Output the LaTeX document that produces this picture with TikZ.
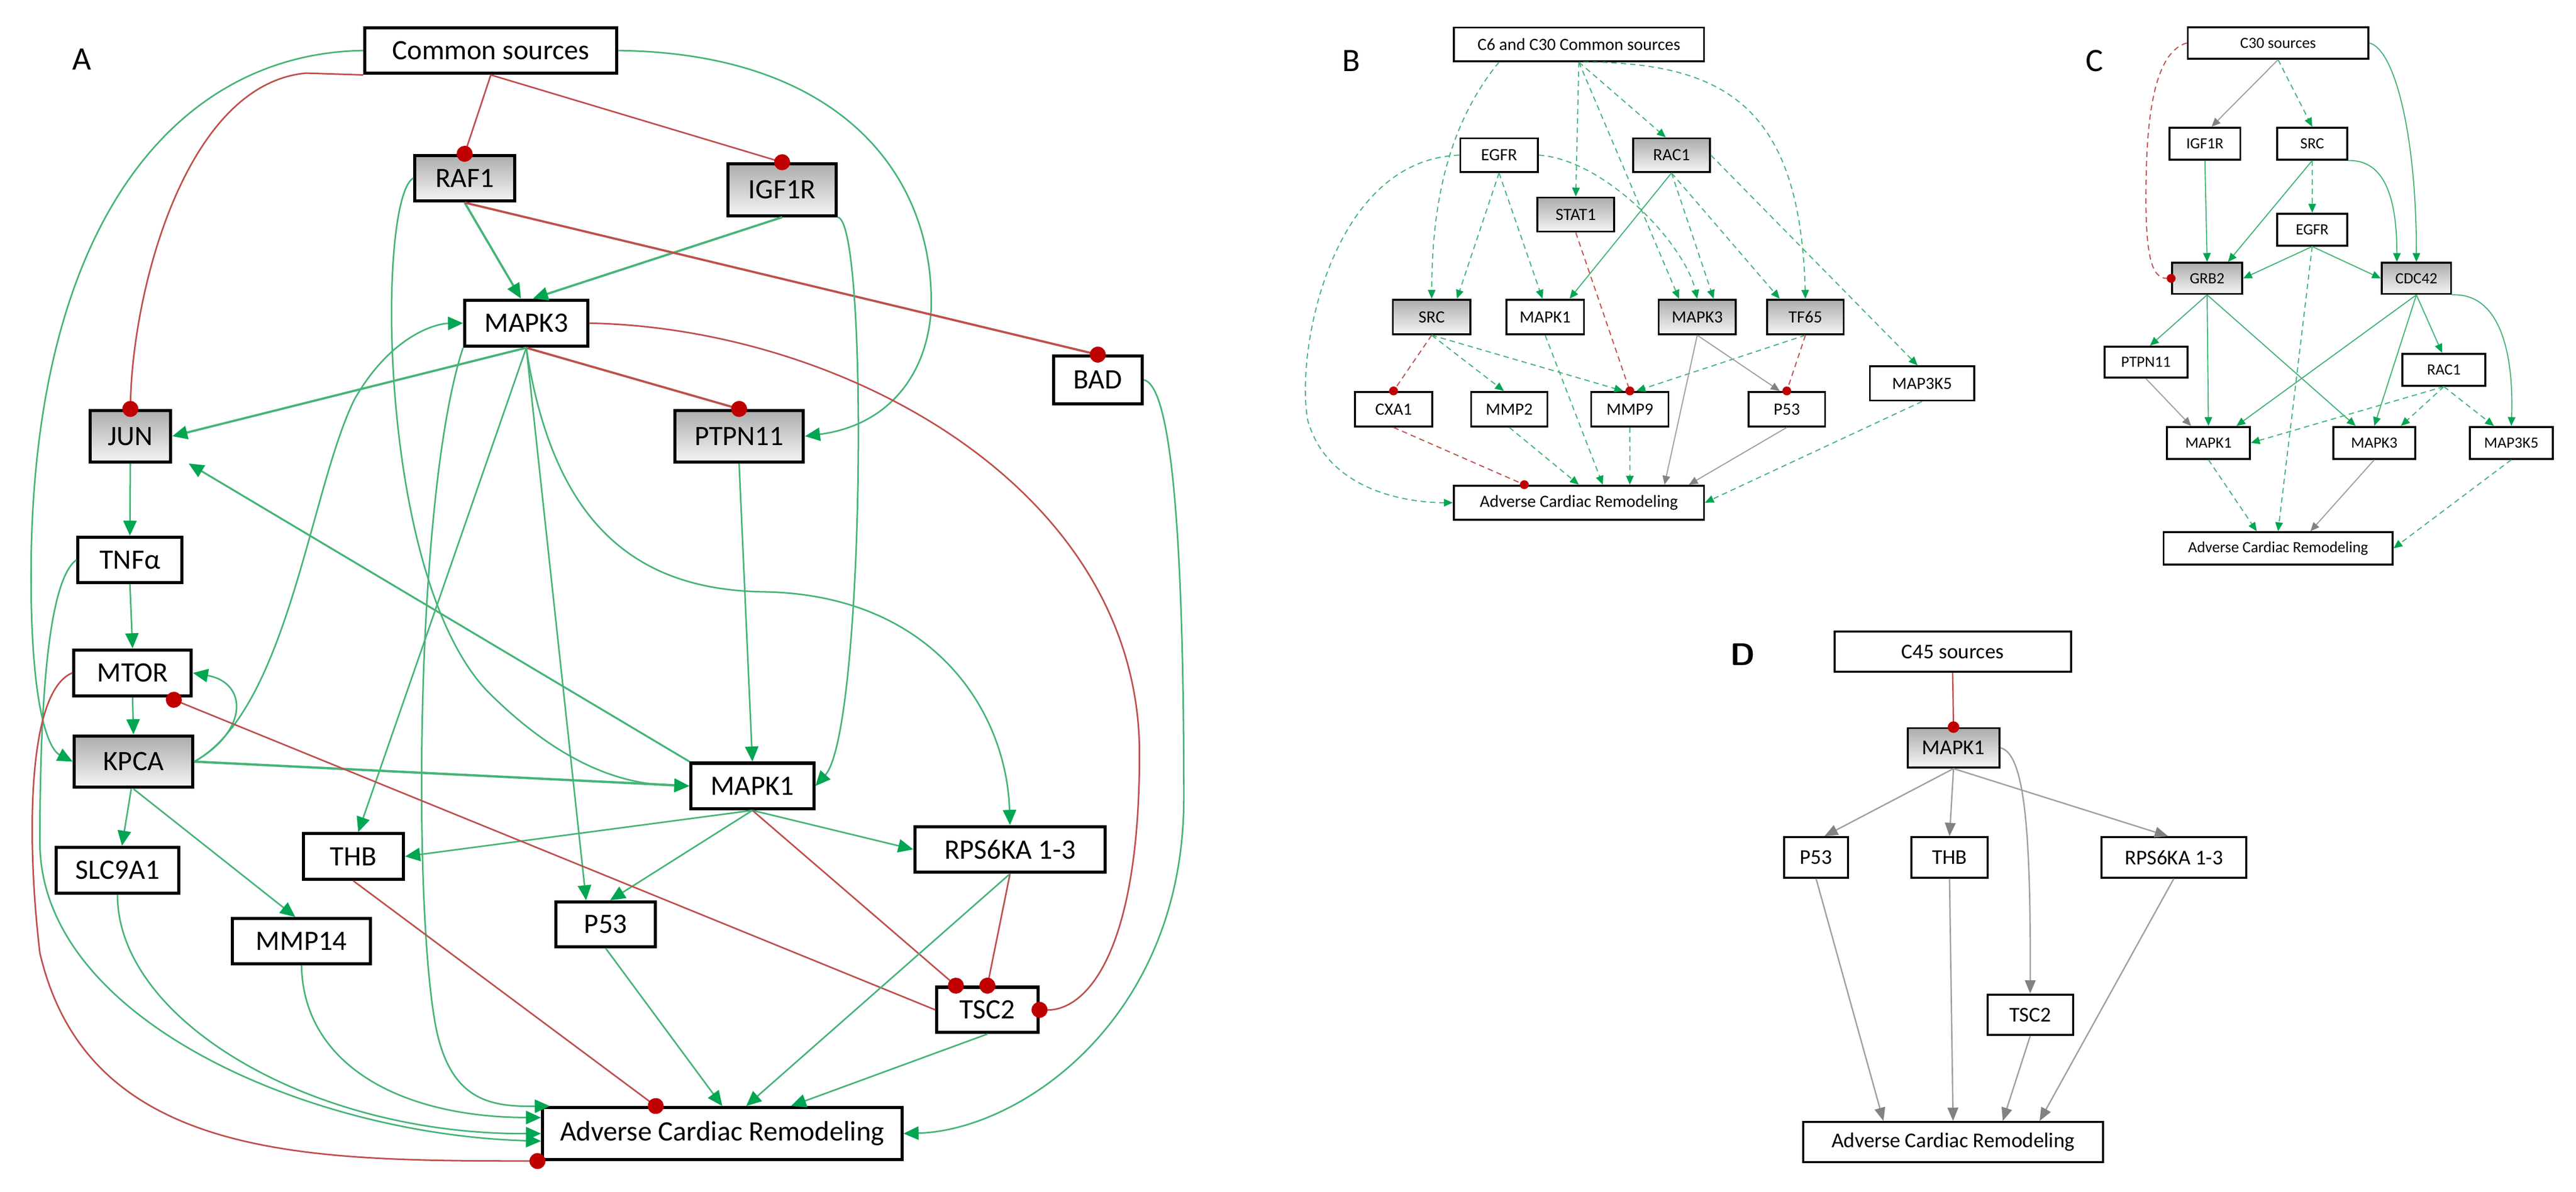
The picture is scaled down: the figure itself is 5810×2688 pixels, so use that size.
\documentclass[tikz,border=0pt]{standalone}
\usepackage{fontspec}
\setmainfont{Carlito}
\usetikzlibrary{arrows.meta,shadings}
\definecolor{gline}{RGB}{70,180,120}
\definecolor{garrow}{RGB}{0,166,81}
\definecolor{rline}{RGB}{190,80,77}
\definecolor{rdot}{RGB}{192,0,0}
\definecolor{gyline}{RGB}{160,160,160}
\definecolor{gyarrow}{RGB}{130,130,130}
\begin{document}
\begin{tikzpicture}[x=0.01cm,y=-0.01cm,
 bx/.style={draw,inner sep=0pt,fill=white},
 nA/.style={bx,line width=2pt,font=\fontsize{18}{20}\selectfont},
 nB/.style={bx,line width=1.2pt,font=\fontsize{11}{13}\selectfont},
 nC/.style={bx,line width=1.2pt,font=\fontsize{10}{12}\selectfont},
 nD/.style={bx,line width=1.3pt,font=\fontsize{13.5}{15}\selectfont},
 gr/.style={top color=gray!65,bottom color=gray!8},
 lab/.style={font=\fontsize{21}{24}\selectfont},
 ga/.style={draw=gline,line width=1pt,-{Triangle[length=0.34cm,width=0.3cm,color=garrow]}},
 ra/.style={draw=rline,line width=1pt,shorten >=-0.18cm,-{Circle[length=0.36cm,color=rdot]}},
 gb/.style={draw=gline,line width=0.7pt,-{Triangle[length=0.2cm,width=0.17cm,color=garrow]}},
 rb/.style={draw=rline,line width=0.7pt,shorten >=-0.1cm,-{Circle[length=0.2cm,color=rdot]}},
 yb/.style={draw=gyline,line width=0.7pt,-{Triangle[length=0.2cm,width=0.17cm,color=gyarrow]}},
 yd/.style={draw=gyline,line width=0.9pt,-{Triangle[length=0.3cm,width=0.24cm,color=gyarrow]}},
 ds/.style={dash pattern=on 3.5pt off 2.5pt}]
\useasboundingbox (0,0) rectangle (5810,2688);

%% ---------------- Panel A ----------------
\node[lab] (labA) at (185,134) {A};
\node[nA,minimum width=5.68cm,minimum height=1.03cm] (cs) at (1107,114) {Common sources};
\node[nA,gr,minimum width=2.25cm,minimum height=1.03cm] (raf) at (1048,402) {RAF1};
\node[nA,gr,minimum width=2.44cm,minimum height=1.17cm] (igf) at (1764,428) {IGF1R};
\node[nA,minimum width=2.78cm,minimum height=1.04cm] (mk3) at (1187,729) {MAPK3};
\node[nA,minimum width=2.0cm,minimum height=1.07cm] (bad) at (2476,857) {BAD};
\node[nA,gr,minimum width=1.82cm,minimum height=1.16cm] (jun) at (294,984) {JUN};
\node[nA,gr,minimum width=2.9cm,minimum height=1.16cm] (ptp) at (1667,984) {PTPN11};
\node[nA,minimum width=2.34cm,minimum height=1.02cm] (tnf) at (293,1263) {TNFα};
\node[nA,minimum width=2.65cm,minimum height=1.04cm] (mtor) at (299,1518) {MTOR};
\node[nA,gr,minimum width=2.67cm,minimum height=1.16cm] (kpca) at (301,1718) {KPCA};
\node[nA,minimum width=2.77cm,minimum height=1.03cm] (mk1) at (1697,1773) {MAPK1};
\node[nA,minimum width=2.77cm,minimum height=1.03cm] (slc) at (265,1963) {SLC9A1};
\node[nA,minimum width=2.26cm,minimum height=1.03cm] (thb) at (797,1932) {THB};
\node[nA,minimum width=4.29cm,minimum height=1.03cm] (rps) at (2278,1916) {RPS6KA 1-3};
\node[nA,minimum width=3.11cm,minimum height=1.02cm] (mmp) at (680,2123) {MMP14};
\node[nA,minimum width=2.25cm,minimum height=1.01cm] (p53) at (1366,2085) {P53};
\node[nA,minimum width=2.28cm,minimum height=1.02cm] (tsc) at (2227,2278) {TSC2};
\node[nA,minimum width=8.1cm,minimum height=1.17cm] (acr) at (1629,2557) {Adverse Cardiac Remodeling};

\draw[ga] (cs.west) .. controls (400,120) and (70,500) .. (70,1300) .. controls (70,1600) and (110,1690) .. (kpca.west);
\draw[ga] (cs.east) .. controls (1900,120) and (2110,400) .. (2100,700) .. controls (2090,850) and (2000,960) .. (ptp.east);
\draw[ra] (cs.south west) -- (690,165) .. controls (420,190) and (300,650) .. (jun.north);
\draw[ra] (cs.south) -- (raf.north);
\draw[ra] (cs.south) -- (igf.north);
\draw[ga,line width=1.4pt] (raf.south) -- ([xshift=-0.12cm]mk3.north);
\draw[ga,line width=1.4pt] (igf.south) -- ([xshift=0.15cm]mk3.north);
\draw[ra,line width=1.4pt] (raf.south) -- (bad.north);
\draw[ga] (raf.west) .. controls (850,450) and (850,1300) .. (1100,1560) .. controls (1300,1760) and (1450,1770) .. (mk1.west);
\draw[ga] (igf.south east) .. controls (1960,500) and (1950,1650) .. (mk1.east);
\draw[ga,line width=1.4pt] (mk3.south) -- (jun.east);
\draw[ga,line width=1.2pt] (mk1.north west) -- ([xshift=0.37cm]jun.south east);
\draw[ra,line width=1.4pt] (mk3.south) -- (ptp.north);
\draw[ra] (mk3.east) .. controls (1900,740) and (2570,1100) .. (2570,1700) .. controls (2570,2150) and (2450,2280) .. (tsc.east);
\draw[ga] (bad.east) .. controls (2650,870) and (2670,1300) .. (2670,1800) .. controls (2670,2300) and (2300,2550) .. (acr.east);
\draw[ga] (ptp.south) -- (mk1.north);
\draw[ga] (kpca.east) .. controls (650,1600) and (700,1100) .. (800,900) .. controls (880,760) and (980,730) .. (mk3.west);
\draw[ga] (kpca.east) .. controls (560,1650) and (560,1540) .. (mtor.east);
\draw[ga,line width=1.5pt] (kpca.east) -- (mk1.west);
\draw[ga] (jun.south) -- (tnf.north);
\draw[ga] (tnf.south) -- (mtor.north);
\draw[ga] (mtor.south) -- (kpca.north);
\draw[ga] (tnf.west) .. controls (120,1300) and (90,1500) .. (90,1900) .. controls (90,2300) and (700,2560) .. ([yshift=-0.17cm]acr.west);
\draw[ga] ([xshift=-0.05cm]kpca.south) -- ([xshift=0.1cm]slc.north);
\draw[ga] (kpca.south) -- ([xshift=-0.14cm]mmp.north);
\draw[ga] (slc.south) .. controls (264,2300) and (700,2560) .. (acr.west);
\draw[ga] (mmp.south) .. controls (684,2400) and (900,2520) .. ([yshift=0.36cm]acr.west);
\draw[ga] (mk3.south) -- ([xshift=0.11cm]thb.north);
\draw[ga] (mk3.south) -- ([xshift=-0.44cm]p53.north);
\draw[ga] (mk3.south) .. controls (1250,1200) and (1450,1330) .. (1720,1335) .. controls (2100,1340) and (2270,1600) .. (rps.north);
\draw[ga] (mk3.south west) .. controls (940,1100) and (930,2000) .. (980,2300) .. controls (1010,2480) and (1100,2497) .. ([xshift=0.2cm]acr.north west);
\draw[ga] (mk1.south) -- (thb.east);
\draw[ga] (mk1.south) -- ([xshift=0.1cm]p53.north);
\draw[ga] (mk1.south) -- (rps.west);
\draw[ra] (mk1.south) -- ([xshift=-0.71cm]tsc.north);
\draw[ra] (rps.south) -- (tsc.north);
\draw[ra] (tsc.west) -- ([xshift=-0.43cm,yshift=-0.05cm]mtor.south east);
\draw[ra] (mtor.west) .. controls (60,1560) and (60,1900) .. (90,2150) .. controls (200,2620) and (700,2618) .. ([xshift=-0.08cm]acr.south west);
\draw[ra] (thb.south) -- ([xshift=-1.5cm]acr.north);
\draw[ga] (p53.south) -- (acr.north);
\draw[ga] (rps.south) -- ([xshift=0.54cm]acr.north);
\draw[ga] (tsc.south) -- ([xshift=1.55cm]acr.north);

%% ---------------- Panel B ----------------
\node[lab] (labB) at (3048,137) {B};
\node[nB,minimum width=5.64cm,minimum height=0.76cm] (bcs) at (3561,100) {C6 and C30 Common sources};
\node[nB,minimum width=1.75cm,minimum height=0.76cm] (bgf) at (3381,350) {EGFR};
\node[nB,gr,minimum width=1.73cm,minimum height=0.76cm] (brac) at (3770,350) {RAC1};
\node[nB,gr,minimum width=1.73cm,minimum height=0.77cm] (bst) at (3554,484) {STAT1};
\node[nB,gr,minimum width=1.75cm,minimum height=0.78cm] (bsrc) at (3229,715) {SRC};
\node[nB,minimum width=1.75cm,minimum height=0.78cm] (bmk1) at (3485,715) {MAPK1};
\node[nB,gr,minimum width=1.74cm,minimum height=0.78cm] (bmk3) at (3828,715) {MAPK3};
\node[nB,gr,minimum width=1.72cm,minimum height=0.78cm] (btf) at (4072,715) {TF65};
\node[nB,minimum width=1.74cm,minimum height=0.78cm] (bcx) at (3143,923) {CXA1};
\node[nB,minimum width=1.72cm,minimum height=0.78cm] (bm2) at (3404,923) {MMP2};
\node[nB,minimum width=1.74cm,minimum height=0.78cm] (bm9) at (3676,923) {MMP9};
\node[nB,minimum width=1.73cm,minimum height=0.78cm] (bp53) at (4030,923) {P53};
\node[nB,minimum width=2.35cm,minimum height=0.77cm] (bm3k) at (4335,865) {MAP3K5};
\node[nB,minimum width=5.64cm,minimum height=0.77cm] (bacr) at (3561,1134) {Adverse Cardiac Remodeling};

\draw[gb,ds] ([xshift=-1.8cm]bcs.south) .. controls (3250,300) and (3230,500) .. (bsrc.north);
\draw[gb,ds] (bgf.south) -- ([xshift=0.57cm]bsrc.north);
\draw[gb,ds] (bgf.south) -- ([xshift=-0.06cm]bmk1.north);
\draw[gb] (brac.south) -- ([xshift=0.55cm]bmk1.north);
\draw[gb,ds] (bcs.south) -- (bst.north);
\draw[gb,ds] (bcs.south) -- ([xshift=-0.13cm]brac.north);
\draw[gb,ds] (bcs.south) -- ([xshift=-0.41cm]bmk3.north);
\draw[gb,ds] (bgf.east) .. controls (3620,360) and (3800,550) .. (bmk3.north);
\draw[gb,ds] (brac.south) -- ([xshift=0.37cm]bmk3.north);
\draw[gb,ds] ([xshift=0.1cm]bcs.south) .. controls (3900,140) and (4060,250) .. (btf.north);
\draw[gb,ds] (brac.south) -- ([xshift=-0.58cm]btf.north);
\draw[gb,ds] (brac.east) -- ([xshift=-0.1cm]bm3k.north);
\draw[gb,ds] (bgf.west) .. controls (3000,360) and (2920,800) .. (2950,950) .. controls (3000,1120) and (3200,1134) .. (bacr.west);
\draw[rb,ds] (bst.south) -- (bm9.north);
\draw[rb,ds] (bsrc.south) -- (bcx.north);
\draw[gb,ds] (bsrc.south) -- ([xshift=-0.12cm]bm2.north);
\draw[gb,ds] (bsrc.south) -- ([xshift=-0.15cm]bm9.north);
\draw[gb,ds] (btf.south) -- ([xshift=0.15cm]bm9.north);
\draw[rb,ds] (btf.south) -- (bp53.north);
\draw[yb] (bmk3.south) -- ([xshift=-0.16cm]bp53.north);
\draw[yb] (bmk3.south) -- ([xshift=1.93cm]bacr.north);
\draw[yb] (bp53.south) -- ([xshift=2.48cm]bacr.north);
\draw[rb,ds] (bcx.south) -- ([xshift=-1.23cm]bacr.north);
\draw[gb,ds] (bm2.south) -- (bacr.north);
\draw[gb,ds] (bmk1.south) -- ([xshift=0.54cm]bacr.north);
\draw[gb,ds] (bm9.south) -- ([xshift=1.15cm]bacr.north);
\draw[gb,ds] (bm3k.south) -- (bacr.east);

%% ---------------- Panel C ----------------
\node[lab] (labC) at (4724,137) {C};
\node[nC,minimum width=4.07cm,minimum height=0.71cm] (ccs) at (5138,97) {C30 sources};
\node[nC,minimum width=1.6cm,minimum height=0.72cm] (cigf) at (4973,324) {IGF1R};
\node[nC,minimum width=1.58cm,minimum height=0.72cm] (csrc) at (5215,324) {SRC};
\node[nC,minimum width=1.58cm,minimum height=0.72cm] (cegf) at (5215,518) {EGFR};
\node[nC,gr,minimum width=1.58cm,minimum height=0.7cm] (cgrb) at (4978,628) {GRB2};
\node[nC,gr,minimum width=1.56cm,minimum height=0.7cm] (ccdc) at (5450,628) {CDC42};
\node[nC,minimum width=1.87cm,minimum height=0.7cm] (cptp) at (4840,817) {PTPN11};
\node[nC,minimum width=1.87cm,minimum height=0.72cm] (crac) at (5512,834) {RAC1};
\node[nC,minimum width=1.87cm,minimum height=0.72cm] (cmk1) at (4981,999) {MAPK1};
\node[nC,minimum width=1.85cm,minimum height=0.72cm] (cmk3) at (5355,999) {MAPK3};
\node[nC,minimum width=1.87cm,minimum height=0.72cm] (cm3k) at (5664,999) {MAP3K5};
\node[nC,minimum width=5.16cm,minimum height=0.73cm] (cacr) at (5138,1237) {Adverse Cardiac Remodeling};

\draw[yb] (ccs.south) -- ([xshift=0.15cm]cigf.north);
\draw[gb,ds] (ccs.south) -- (csrc.north);
\draw[rb,ds] (ccs.west) .. controls (4850,120) and (4840,300) .. (4840,450) .. controls (4840,600) and (4860,628) .. (cgrb.west);
\draw[gb] (ccs.east) .. controls (5400,110) and (5450,300) .. (ccdc.north);
\draw[gb] (csrc.south east) .. controls (5380,360) and (5406,450) .. ([xshift=-0.44cm]ccdc.north);
\draw[gb] (cigf.south) -- (cgrb.north);
\draw[gb] (csrc.south) -- ([xshift=0.47cm]cgrb.north);
\draw[gb,ds] (csrc.south) -- (cegf.north);
\draw[gb] (cegf.south) -- (cgrb.east);
\draw[gb] (cegf.south) -- (ccdc.west);
\draw[gb,ds] (cegf.south) -- (cacr.north);
\draw[gb] (cgrb.south) -- ([xshift=0.09cm]cptp.north);
\draw[gb] (cgrb.south) -- (cmk1.north);
\draw[gb] (cgrb.south) -- ([xshift=-0.42cm]cmk3.north);
\draw[yb] (cptp.south) -- ([xshift=-0.39cm]cmk1.north);
\draw[gb] (ccdc.south) -- ([xshift=0.63cm]cmk1.north);
\draw[gb] (ccdc.south) -- (cmk3.north);
\draw[gb] (ccdc.south) -- ([xshift=-0.04cm]crac.north);
\draw[gb] (ccdc.south east) .. controls (5640,660) and (5670,800) .. (cm3k.north);
\draw[gb,ds] (crac.south) -- (cmk1.east);
\draw[gb,ds] (crac.south) -- ([xshift=0.6cm]cmk3.north);
\draw[gb,ds] (crac.south) -- ([xshift=-0.39cm]cm3k.north);
\draw[gb,ds] (cmk1.south) -- ([xshift=-0.48cm]cacr.north);
\draw[yb] (cmk3.south) -- ([xshift=0.73cm]cacr.north);
\draw[gb,ds] (cm3k.south) -- (cacr.east);

%% ---------------- Panel D ----------------
\node[font=\fontsize{20}{24}\selectfont\bfseries\sffamily] (labD) at (3931,1476) {D};
\node[nD,minimum width=5.33cm,minimum height=0.91cm] (dcs) at (4404,1470) {C45 sources};
\node[nD,gr,minimum width=2.07cm,minimum height=0.89cm] (dmk1) at (4406,1687) {MAPK1};
\node[nD,minimum width=1.44cm,minimum height=0.91cm] (dp53) at (4096,1934) {P53};
\node[nD,minimum width=1.71cm,minimum height=0.91cm] (dthb) at (4397,1934) {THB};
\node[nD,minimum width=3.27cm,minimum height=0.91cm] (drps) at (4903,1934) {RPS6KA 1-3};
\node[nD,minimum width=1.93cm,minimum height=0.91cm] (dtsc) at (4579,2289) {TSC2};
\node[nD,minimum width=6.75cm,minimum height=0.9cm] (dacr) at (4405,2576) {Adverse Cardiac Remodeling};

\draw[rline,line width=0.9pt,shorten >=-0.13cm,-{Circle[length=0.26cm,color=rdot]}] (dcs.south) -- (dmk1.north);
\draw[yd] (dmk1.south) -- ([xshift=0.19cm]dp53.north);
\draw[yd] (dmk1.south) -- (dthb.north);
\draw[yd] (dmk1.south) -- ([xshift=-0.13cm]drps.north);
\draw[yd] (dmk1.east) .. controls (4570,1700) and (4580,1900) .. (dtsc.north);
\draw[yd] (dp53.south) -- ([xshift=-1.57cm]dacr.north);
\draw[yd] (dthb.south) -- (dacr.north);
\draw[yd] (dtsc.south) -- ([xshift=1.12cm]dacr.north);
\draw[yd] (drps.south) -- ([xshift=1.95cm]dacr.north);
\end{tikzpicture}
\end{document}
